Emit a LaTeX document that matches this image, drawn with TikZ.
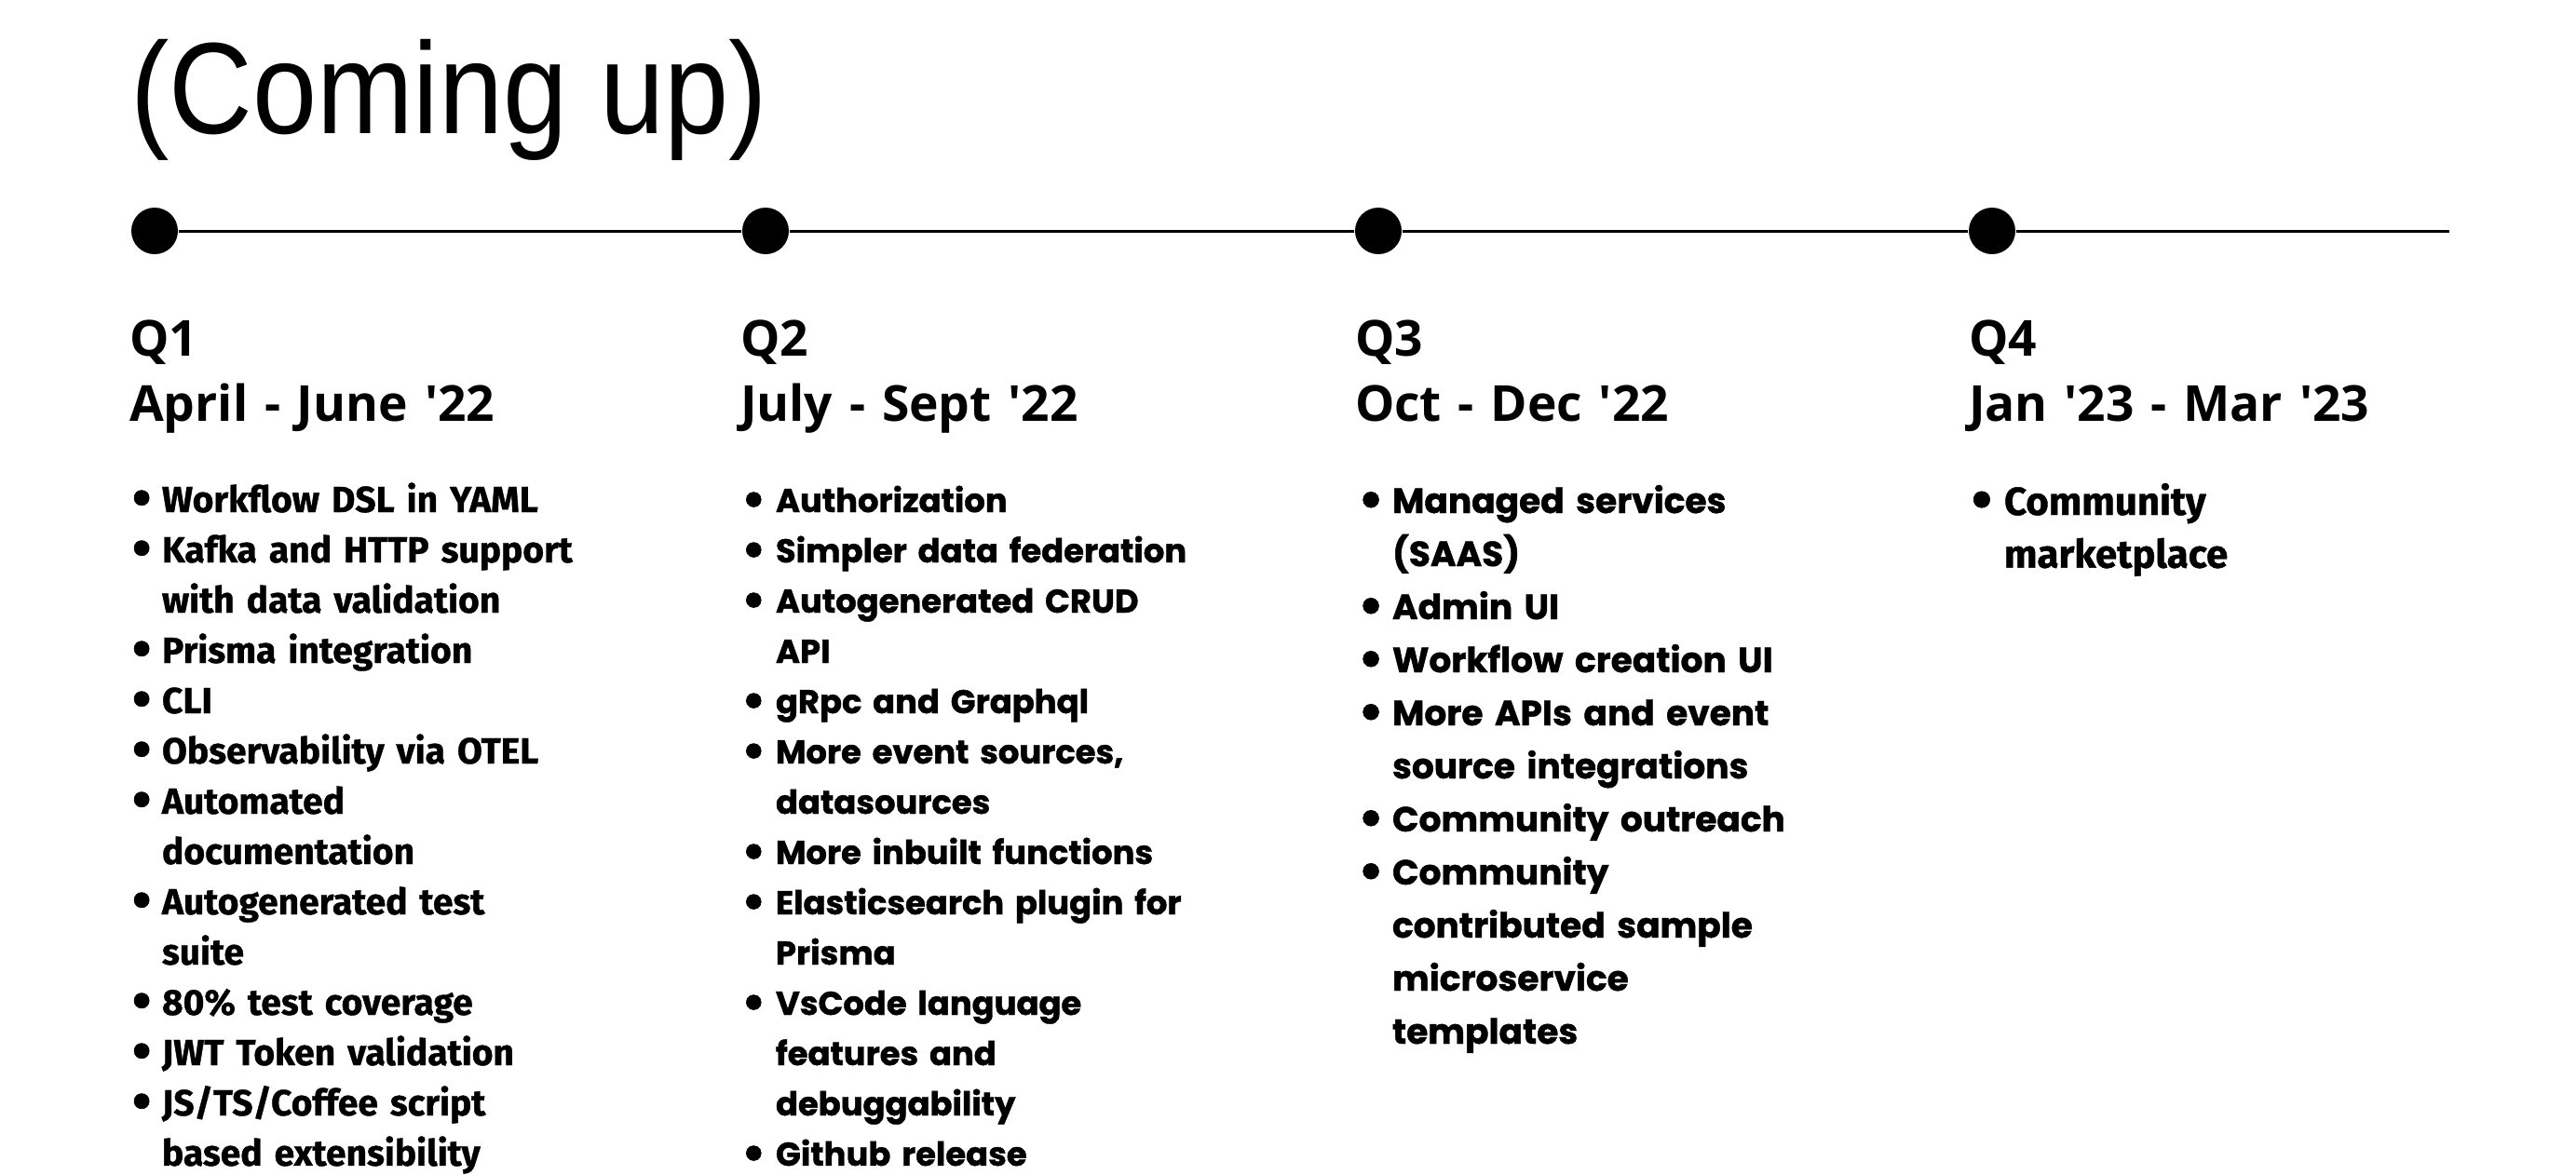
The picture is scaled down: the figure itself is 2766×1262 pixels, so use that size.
\documentclass[tikz,border=0pt]{standalone}
\usepackage{fontspec}
\usepackage{xcolor}
\usepackage{tikz}
\usetikzlibrary{positioning}
\setmainfont{Open Sans}
\newfontfamily\titlefont{Liberation Sans}[FakeStretch=0.89]
\newfontfamily\headfont{Open Sans}
\newfontfamily\narrowfont{Fira Sans}[BoldFeatures={FakeBold=1}]
\newfontfamily\widefont{Poppins}[BoldFeatures={FakeBold=1.2}]
\definecolor{cInk}{HTML}{000000}
\newlength{\bulind}
\newcommand{\itm}[1]{\hangindent=\bulind\hangafter=1\noindent
  \makebox[\bulind][l]{\raisebox{-0.12em}{\scalebox{1.5}{\textbullet}}}#1\par}
\tikzset{
  txt/.style={anchor=base west, inner sep=0pt, outer sep=0pt, text=cInk},
  titletxt/.style={txt, font=\titlefont\fontsize{41.9pt}{48pt}\selectfont},
  quarter/.style={txt, align=left, text width=180pt,
                  font=\headfont\bfseries\fontsize{16pt}{21pt}\selectfont},
  narrowlist/.style n args={3}{txt, align=left, text width=180pt,
                     font=\narrowfont\bfseries\fontsize{#1}{#2}\selectfont\setlength{\bulind}{#3}},
  widelist/.style n args={3}{txt, align=left, text width=180pt,
                   font=\widefont\bfseries\fontsize{#1}{#2}\selectfont\setlength{\bulind}{#3}},
  dot/.style={circle, fill=cInk, minimum size=15pt, inner sep=0pt},
  rail/.style={draw=cInk, line width=0.9pt},
}
\begin{document}
\begin{tikzpicture}[x=0.3pt, y=-0.3pt]
  \useasboundingbox (0,0) rectangle (2766,1262);

  % heading
  \node[titletxt] (title) at (140,143) {(Coming up)};

  % timeline
  \node[dot] (dot1) at (166,248) {};
  \node[dot] (dot2) at (822,248) {};
  \node[dot] (dot3) at (1480,248) {};
  \node[dot] (dot4) at (2139,248) {};
  \coordinate (railend) at (2630,248);
  \draw[rail] (dot1) -- (dot2) -- (dot3) -- (dot4) -- (railend);

  % quarters
  \node[quarter] (head1) at (139,382) {Q1\\April - June '22};
  \node[quarter] (head2) at (795,382) {Q2\\July - Sept '22};
  \node[quarter] (head3) at (1455,382) {Q3\\Oct - Dec '22};
  \node[quarter] (head4) at (2114,382) {Q4\\Jan '23 - Mar '23};

  % milestones per quarter
  \node[narrowlist={11.7pt}{16.2pt}{9.6pt}] (items1) at (142,550) {%
    \itm{Workflow DSL in YAML}
    \itm{Kafka and HTTP support\newline with data validation}
    \itm{Prisma integration}
    \itm{CLI}
    \itm{Observability via OTEL}
    \itm{Automated\newline documentation}
    \itm{Autogenerated test\newline suite}
    \itm{80\% test coverage}
    \itm{JWT Token validation}
    \itm{JS/TS/Coffee script\newline based extensibility}};

  \node[widelist={10.6pt}{16.2pt}{11.1pt}] (items2) at (796,550) {%
    \itm{Authorization}
    \itm{Simpler data federation}
    \itm{Autogenerated CRUD\newline API}
    \itm{gRpc and Graphql}
    \itm{More event sources,\newline datasources}
    \itm{More inbuilt functions}
    \itm{Elasticsearch plugin for\newline Prisma}
    \itm{VsCode language\newline features and\newline debuggability}
    \itm{Github release}};

  \node[widelist={11.25pt}{17.1pt}{11.1pt}] (items3) at (1458,551) {%
    \itm{Managed services\newline (SAAS)}
    \itm{Admin UI}
    \itm{Workflow creation UI}
    \itm{More APIs and event\newline source integrations}
    \itm{Community outreach}
    \itm{Community\newline contributed sample\newline microservice\newline templates}};

  \node[narrowlist={12.6pt}{17pt}{10.5pt}] (items4) at (2117,553) {%
    \itm{Community\newline marketplace}};
\end{tikzpicture}
\end{document}
